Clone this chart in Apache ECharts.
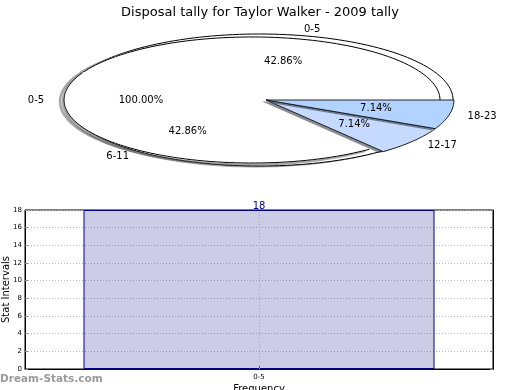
<!DOCTYPE html>
<html><head><meta charset="utf-8">
<script src="https://cdn.jsdelivr.net/npm/echarts@6/dist/echarts.min.js"></script>
<style>html,body{margin:0;padding:0;background:#fff}#c{width:520px;height:390px}</style>
</head><body><div id="c"></div>
<script>
const titleText = 'Disposal tally for Taylor Walker - 2009 tally';
const pieNames = ['0-5', '6-11', '12-17', '18-23'];
const pieValues = [6, 6, 1, 1];
const pieColors = ['#ffffff', '#ffffff', '#c6d9ff', '#b2d2ff'];
const fullNames = ['0-5'];
const fullValues = [18];
const barCategories = ['0-5'];
const barValues = [18];
const yMin = 0, yMax = 18, yStep = 2;
const watermark = 'Dream-Stats.com';

const FONT = 'DejaVu Sans, sans-serif';
const D2R = Math.PI / 180;

function arcPts(api, cx, cy, rx, ry, a0, a1, withCenter) {
  const pts = [];
  if (withCenter) pts.push(api.coord([cx, cy]));
  const n = Math.max(8, Math.ceil(Math.abs(a1 - a0) / 2));
  for (let k = 0; k <= n; k++) {
    const a = (a0 + (a1 - a0) * k / n) * D2R;
    pts.push(api.coord([cx + rx * Math.cos(a), cy + ry * Math.sin(a)]));
  }
  return pts;
}
function shadowColor(hex) {
  const r = parseInt(hex.slice(1, 3), 16) * 0.3, g = parseInt(hex.slice(3, 5), 16) * 0.3, b = parseInt(hex.slice(5, 7), 16) * 0.3;
  return 'rgba(' + Math.round(r) + ',' + Math.round(g) + ',' + Math.round(b) + ',0.6)';
}
function labelEls(api, cx, rx, ry, mid, name, pct) {
  const a = mid * D2R;
  const c = Math.cos(a), s = Math.sin(a);
  const p1 = api.coord([cx + 1.1 * rx * c, 1.1 * ry * s]);
  const p2 = api.coord([cx + 0.6 * rx * c, 0.6 * ry * s]);
  return [
    { type: 'text', style: { text: name, x: p1[0], y: p1[1], align: c > 0 ? 'left' : (c < -1e-9 ? 'right' : 'center'), verticalAlign: 'middle', fill: '#000', font: '10px ' + FONT } },
    { type: 'text', style: { text: pct, x: p2[0], y: p2[1], align: 'center', verticalAlign: 'middle', fill: '#000', font: '10px ' + FONT } }
  ];
}
const SHX = -0.021, SHY = -0.023;

const fullTotal = fullValues.reduce((a, b) => a + b, 0);
const pieTotal = pieValues.reduce((a, b) => a + b, 0);

function fullRender(withShapes, withLabels) {
  return function (params, api) {
    const i = params.dataIndex;
    let before = 0; for (let k = 0; k < i; k++) before += fullValues[k];
    const frac = api.value(0) / fullTotal;
    const a0 = before / fullTotal * 360, a1 = a0 + frac * 360;
    const cx = -0.035, rx = 1.03, ry = 1;
    let ch = [];
    if (withShapes) ch = [
      { type: 'polygon', shape: { points: arcPts(api, cx + SHX, SHY, rx, ry, a0, a1, frac < 1) }, style: { fill: 'rgba(77,77,77,0.5)' } },
      { type: 'polygon', shape: { points: arcPts(api, cx, 0, rx, ry, a0, a1, frac < 1) }, style: { fill: '#fff', stroke: '#000', lineWidth: 1 } }
    ];
    if (withLabels) ch = ch.concat(labelEls(api, cx - 0.012, rx, ry, (a0 + a1) / 2, fullNames[i], (frac * 100).toFixed(2) + '%'));
    return { type: 'group', children: ch };
  };
}

const chart = echarts.init(document.getElementById('c'), null, { renderer: 'canvas' });
chart.setOption({
  animation: false,
  backgroundColor: '#fff',
  title: { text: titleText, left: 'center', top: 1, textStyle: { fontFamily: FONT, fontSize: 13, fontWeight: 'normal', color: '#000' } },
  graphic: [{ type: 'text', left: 0, top: 374, style: { text: watermark, fill: '#9a9a9a', font: 'bold 10.5px ' + FONT } }],
  grid: [
    { left: 78, top: 34, width: 376, height: 132, show: false, outerBoundsMode: 'none', containLabel: false },
    { left: 25, right: 27, top: 210, bottom: 21, show: true, borderColor: '#000', borderWidth: 1, backgroundColor: 'transparent', outerBoundsMode: 'none', containLabel: false }
  ],
  xAxis: [
    { type: 'value', gridIndex: 0, min: -1, max: 1, show: false },
    { type: 'category', gridIndex: 1, data: barCategories,
      name: 'Frequency', nameLocation: 'middle', nameGap: 15, nameMoveOverlap: false, nameTextStyle: { fontFamily: FONT, fontSize: 10, color: '#000' },
      axisLine: { lineStyle: { color: '#000' } }, axisTick: { show: true, alignWithLabel: true, inside: true, length: 3, lineStyle: { color: '#666' } },
      axisLabel: { fontFamily: FONT, fontSize: 7, color: '#000', margin: 5 }, splitLine: { show: false } }
  ],
  yAxis: [
    { type: 'value', gridIndex: 0, min: -1, max: 1, show: false },
    { type: 'value', gridIndex: 1, min: yMin, max: yMax, interval: yStep,
      name: 'Stat Intervals', nameLocation: 'middle', nameGap: 14, nameMoveOverlap: false, nameRotate: 90, nameTextStyle: { fontFamily: FONT, fontSize: 10, color: '#000' },
      axisLine: { show: true, lineStyle: { color: '#000' } }, axisTick: { show: true, inside: true, length: 3, lineStyle: { color: '#888' } },
      axisLabel: { fontFamily: FONT, fontSize: 7, color: '#000', margin: 3 },
      splitLine: { show: true, lineStyle: { color: '#b8b8b8', type: [1, 2], width: 1 } } },
    { type: 'value', gridIndex: 1, min: yMin, max: yMax, interval: yStep, position: 'right',
      axisLine: { show: true, lineStyle: { color: '#000' } }, axisTick: { show: true, inside: true, length: 3, lineStyle: { color: '#888' } },
      axisLabel: { show: false }, splitLine: { show: false } }
  ],
  series: [
    { type: 'custom', coordinateSystem: 'cartesian2d', xAxisIndex: 0, yAxisIndex: 0, clip: false, silent: true, z: 1,
      data: fullValues.map((v, i) => ({ value: [v], name: fullNames[i] })),
      renderItem: fullRender(true, false) },
    { type: 'custom', coordinateSystem: 'cartesian2d', xAxisIndex: 0, yAxisIndex: 0, clip: false, silent: true, z: 2,
      data: pieValues.map((v, i) => ({ value: [v], name: pieNames[i] })),
      renderItem: function (params, api) {
        const i = params.dataIndex;
        let before = 0; for (let k = 0; k < i; k++) before += pieValues[k];
        const frac = api.value(0) / pieTotal;
        const a0 = before / pieTotal * 360, a1 = a0 + frac * 360;
        const white = pieColors[i] === '#ffffff';
        const cx = white ? -0.0745 : 0, rx = 1, ry = white ? 0.955 : 1;
        const ch = [];
        if (white) {
          ch.push({ type: 'polyline', shape: { points: arcPts(api, cx + SHX, SHY, rx, ry, a0, a1, false) }, style: { fill: null, stroke: 'rgba(77,77,77,0.5)', lineWidth: 2.5 } });
          ch.push({ type: 'polygon', shape: { points: arcPts(api, cx, 0, rx, ry, a0, a1, true) }, style: { fill: '#fff', stroke: '#fff', lineWidth: 1 } });
          ch.push({ type: 'polyline', shape: { points: arcPts(api, cx, 0, rx, ry, a0, a1, false) }, style: { fill: null, stroke: '#000', lineWidth: 1 } });
        } else {
          ch.push({ type: 'polygon', shape: { points: arcPts(api, cx + SHX, SHY, rx, ry, a0, a1, true) }, style: { fill: shadowColor(pieColors[i]) } });
          ch.push({ type: 'polygon', shape: { points: arcPts(api, cx, 0, rx, ry, a0, a1, true) }, style: { fill: pieColors[i], stroke: '#111', lineWidth: 0.9 } });
        }
        const lcx = white ? -0.0426 : 0;
        return { type: 'group', children: ch.concat(labelEls(api, lcx, 1, 1, (a0 + a1) / 2, pieNames[i], (frac * 100).toFixed(2) + '%')) };
      } },
    { type: 'custom', coordinateSystem: 'cartesian2d', xAxisIndex: 0, yAxisIndex: 0, clip: false, silent: true, z: 3,
      data: fullValues.map((v, i) => ({ value: [v], name: fullNames[i] })),
      renderItem: fullRender(false, true) },
    { type: 'bar', xAxisIndex: 1, yAxisIndex: 1, data: barValues, barWidth: '75%',
      itemStyle: { color: 'rgba(0,0,128,0.2)', borderColor: '#000080', borderWidth: 1 },
      label: { show: true, position: 'top', distance: -1, color: '#000080', fontFamily: FONT, fontSize: 10 },
      markLine: { silent: true, symbol: 'none', label: { show: false }, lineStyle: { color: '#a8a8a8', type: [1, 2], width: 1 }, data: [{ xAxis: 0 }] } }
  ]
});
</script></body></html>
